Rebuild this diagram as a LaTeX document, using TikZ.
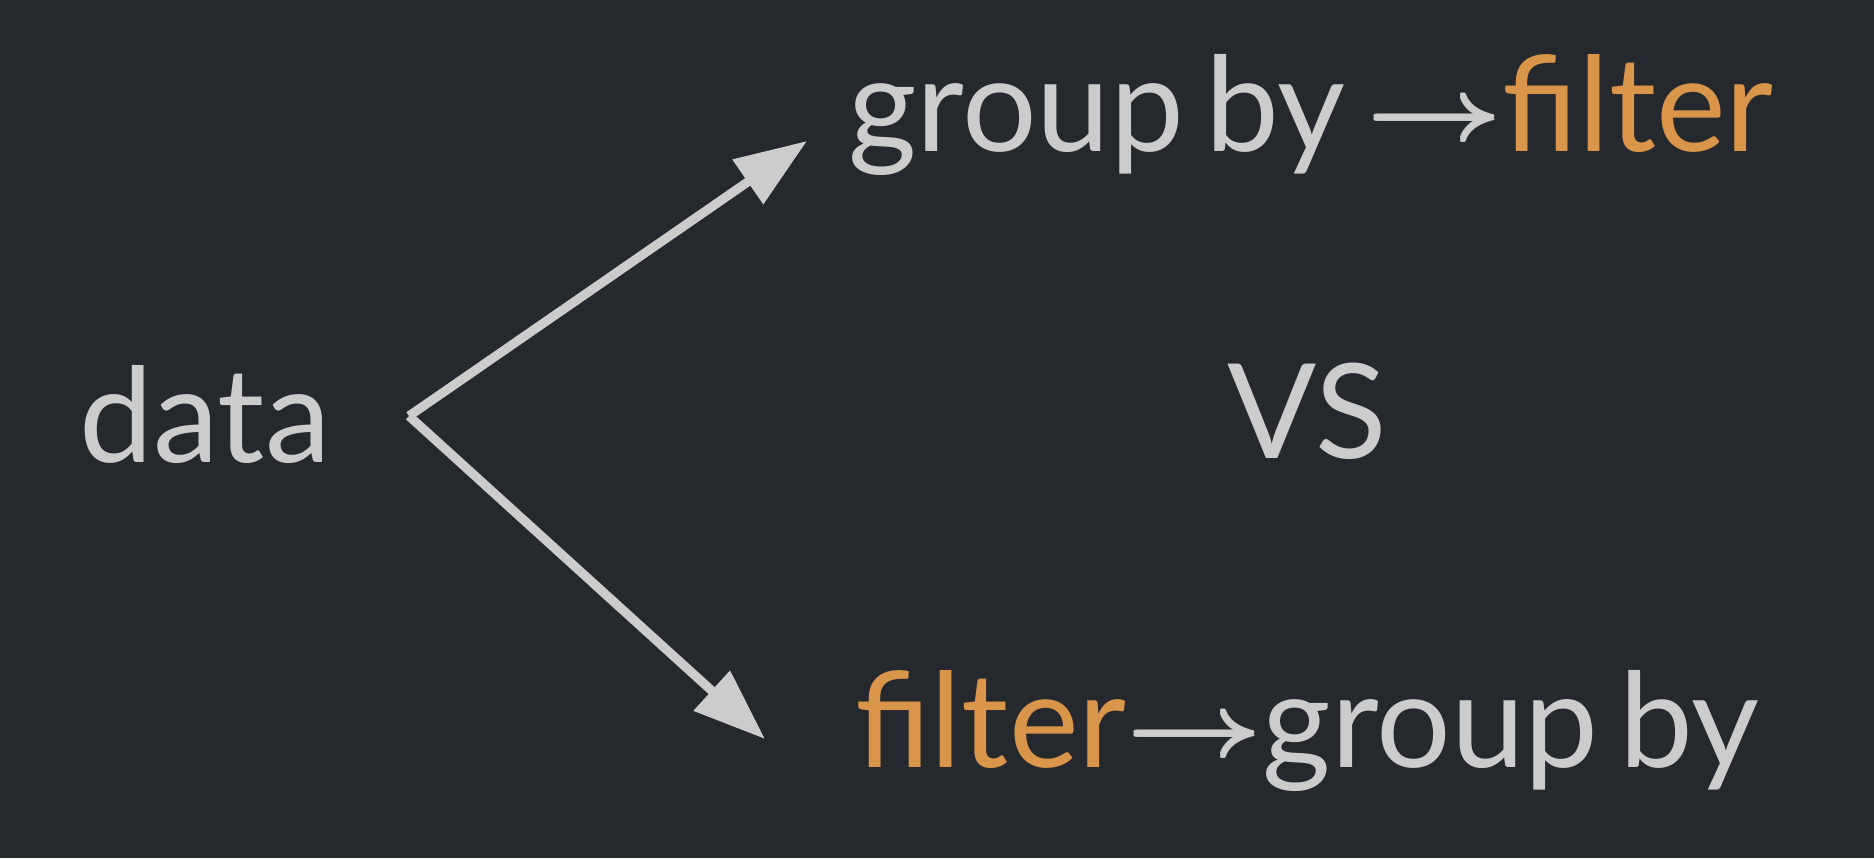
\documentclass[tikz,border=0pt]{standalone}
\usepackage{graphicx}
\usepackage{fontspec}
\setmainfont{Lato}
\usetikzlibrary{arrows.meta}
\definecolor{bgdark}{RGB}{37,40,45}
\definecolor{txtgray}{RGB}{204,204,204}
\definecolor{txtorange}{RGB}{217,149,74}
\newcommand{\wordfont}{\fontsize{75}{90}\selectfont\spaceskip=0.16em\relax}
% the arrow glyph, stretched and made heavier
\newcommand{\onearrow}{\scalebox{7.75}[4.96]{\fontsize{10}{12}\selectfont$\rightarrow$}}
\newcommand{\thenarrow}{\raisebox{5.3pt}{\rlap{\onearrow}\rlap{\raisebox{0.8pt}{\onearrow}}\rlap{\raisebox{1.6pt}{\onearrow}}\raisebox{2.4pt}{\onearrow}}}

\begin{document}
\begin{tikzpicture}[>={Triangle[length=1.44cm, width=1.04cm]},
  word/.style={anchor=base west, inner sep=0pt, text=txtgray, font=\wordfont}]
\fill[bgdark] (0,0) rectangle (37.48,17.16);
\useasboundingbox (0,0) rectangle (37.48,17.16);

\node[word] (data) at (1.58,7.91) {data};
\node[word] (gbf) at (16.96,14.14) {group by \thenarrow\textcolor{txtorange}{filter}};
\node[word] (vs) at (24.55,8.0) {VS};
\node[word] (fgb) at (17.1,1.82) {\textcolor{txtorange}{filter}\thenarrow group by};

\coordinate (fork) at (8.18,8.84);
\coordinate (tipup) at (16.14,14.34);
\coordinate (tipdown) at (15.30,2.38);

\draw[->, txtgray, line width=5.2pt] (fork) -- (tipup);
\draw[->, txtgray, line width=5.2pt] (fork) -- (tipdown);
\end{tikzpicture}
\end{document}
